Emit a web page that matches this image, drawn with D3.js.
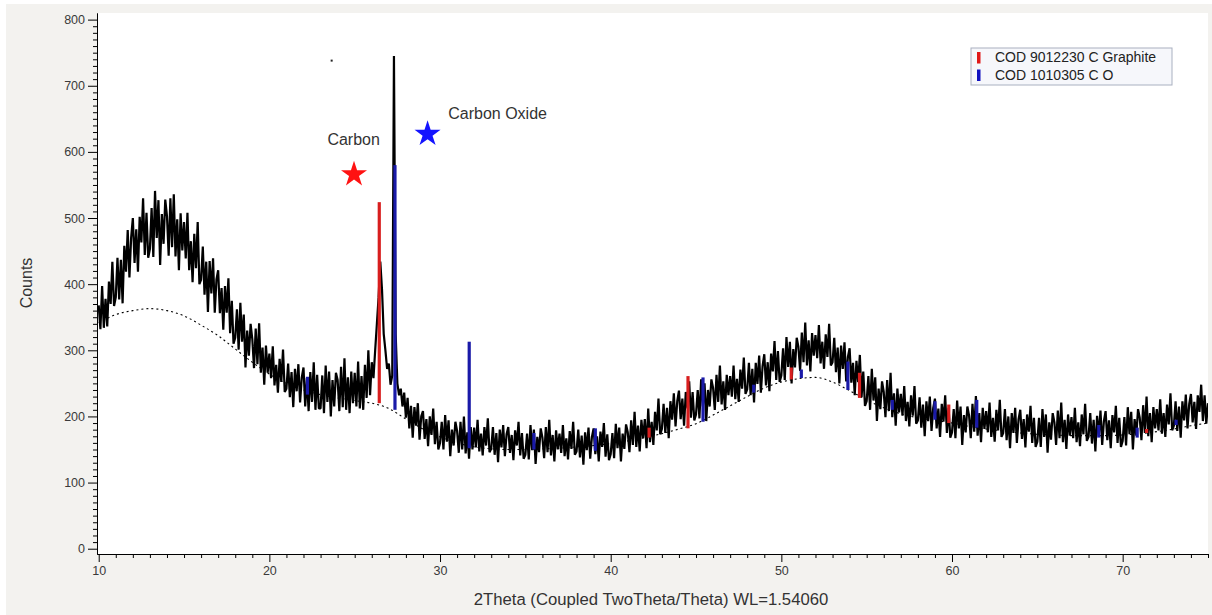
<!DOCTYPE html>
<html>
<head>
<meta charset="utf-8">
<script src="https://cdn.jsdelivr.net/npm/d3@7"></script>
<style>
  html, body { margin: 0; padding: 0; background: #fff; }
  svg { display: block; font-family: "Liberation Sans", Arial, sans-serif; }
</style>
</head>
<body>
<div id="chart"></div>
<script>
// scan: 2theta from 10 to 75 deg, 0.1 deg step (one row per degree)
const scanStart = 10, scanStep = 0.1;
const counts = [
  368,332,397,334,378,336,404,370,434,367,
  380,440,377,437,371,458,419,482,410,470,
  500,432,483,419,502,463,530,444,508,440,
  453,515,441,541,470,527,429,506,461,528,
  503,443,530,456,536,442,498,421,507,451,
  494,439,508,421,465,403,476,424,494,400,
  407,457,384,434,358,435,386,439,357,407,
  421,356,394,331,397,357,409,326,375,310,
  319,362,301,372,313,354,274,330,292,340,
  317,273,333,279,341,266,304,248,307,266,
  295,258,306,247,278,236,287,252,301,237,
  242,280,229,267,214,272,238,279,221,259,
  274,215,258,208,267,222,282,210,263,212,
  212,262,205,277,222,268,200,255,215,266,
  255,208,275,214,288,210,259,205,268,220,
  266,215,283,212,261,210,278,228,300,232,
  282,258,300,340,380,434,392,325,300,272,
  280,248,262,745,325,250,232,242,215,236,
  198,228,182,216,168,214,186,220,165,200,
  208,166,196,155,200,172,212,158,192,150,
  160,192,150,202,162,194,140,180,156,192,
  178,145,192,150,200,144,176,136,184,150,
  183,153,195,147,174,141,184,156,197,146,
  151,184,142,175,131,180,153,187,140,173,
  184,145,172,134,179,156,192,141,175,136,
  142,174,135,187,149,180,128,169,146,182,
  168,137,184,146,195,141,172,132,179,150,
  174,145,187,140,167,135,178,151,192,142,
  147,180,138,171,127,176,149,183,136,169,
  182,143,170,132,177,154,190,139,173,134,
  143,175,137,189,152,183,132,174,151,188,
  176,146,194,157,207,154,186,147,195,167,
  196,152,212,161,192,157,207,179,227,173,
  181,219,175,213,167,223,195,235,185,223,
  239,196,227,186,237,212,253,198,237,194,
  203,240,197,256,215,250,193,240,215,256,
  243,210,263,222,277,218,253,210,263,232,
  261,230,277,226,257,222,271,242,289,234,
  241,281,232,272,221,281,249,292,236,276,
  294,247,282,238,295,268,314,255,299,252,
  262,303,255,320,275,313,250,302,274,319,
  305,269,327,282,342,277,315,268,326,292,
  323,288,338,280,313,272,324,290,340,277,
  282,319,267,304,250,307,272,312,253,290,
  303,251,281,232,284,252,293,229,268,216,
  223,261,210,272,224,259,193,242,211,253,
  237,199,255,208,266,199,235,186,242,206,
  234,201,246,193,222,185,232,201,246,189,
  194,229,183,218,170,223,193,230,178,213,
  227,182,212,169,219,192,232,175,213,168,
  176,211,167,224,182,215,157,202,176,215,
  201,167,219,177,231,171,205,161,213,181,
  208,176,221,169,198,162,210,179,225,169,
  175,211,164,200,152,205,175,213,160,196,
  210,166,196,153,203,177,216,160,198,154,
  162,198,154,211,169,203,145,191,165,205,
  191,157,209,167,221,161,195,151,203,171,
  199,167,213,161,191,155,203,173,219,163,
  169,205,159,195,147,201,171,209,157,193,
  208,164,194,152,202,176,216,160,198,154,
  163,199,156,214,173,207,150,196,171,211,
  198,164,217,175,230,170,205,161,214,182,
  211,179,226,174,205,169,218,188,235,179,
  186,223,178,215,168,223,194,233,182,219,
  234,191,222,181,232,207,248,193,232,189,
  220
];

// fitted background (dashed)
const bgAngles = [10,11,12,13,14,15,16,17,18,19,20,21,22,23,24,25,26,27,28,29,30,31,32,33,34,35,36,37,38,39,40,41,42,
  43,44,45,46,47,48,49,50,51,52,53,54,55,56,57,58,59,60,61,62,63,64,65,66,67,68,69,70,71,72,73,74,75];
const bgCounts = [342,354,360,363,360,352,338,322,302,282,264,250,240,233,228,224,220,212,196,181,169,160,154,151,150,150,151,152,154,156,159,163,168,
  174,181,189,202,216,230,243,252,257,259,252,239,225,213,204,198,194,190,185,181,178,175,173,172,171,171,171,172,174,177,181,186,190];

// reference sticks
const graphitePos  = [26.44, 42.25, 44.53, 50.58, 54.58, 59.81, 71.4];
const graphiteBase = [220, 168, 182, 256, 228, 190, 175];
const graphiteTop  = [524, 183, 261, 274, 266, 218, 181];

const coPos  = [22.23, 27.36, 31.71, 35.5, 39.1, 45.41, 48.38, 51.17, 53.9, 56.5, 59.0, 61.45, 68.6, 70.85, 73.13];
const coBase = [233, 210, 152, 150, 148, 192, 236, 258, 240, 210, 195, 183, 168, 168, 187];
const coTop  = [260, 580, 313, 175, 182, 259, 248, 271, 283, 225, 223, 225, 187, 183, 195];

const legendLabels = ["COD 9012230 C Graphite", "COD 1010305 C O"];
const legendColors = ["#e01818", "#1010c0"];

// annotations (angle, counts)
const noteLabels = ["Carbon", "Carbon Oxide"];
const noteAt = [[23.4, 610], [30.48, 650]];
const starAt = [[24.96, 566], [29.27, 627]];
const starColors = ["#ff1212", "#1414ff"];

const xTickLabels = [10, 20, 30, 40, 50, 60, 70];
const yTickLabels = [0, 100, 200, 300, 400, 500, 600, 700, 800];

const W = 1212, H = 615;
const svg = d3.select("#chart").append("svg").attr("width", W).attr("height", H);

// panels
svg.append("rect").attr("x", 6).attr("y", 4).attr("width", W - 6).attr("height", H - 4).attr("fill", "#f3f2ef");
const pL = 97, pR = 1208, pT = 13, pB = 554;
svg.append("rect").attr("x", pL).attr("y", pT).attr("width", pR - pL).attr("height", pB - pT).attr("fill", "#fff");

const x = d3.scaleLinear().domain([9.9, 75]).range([pL, pR]);
const y = d3.scaleLinear().domain([-8, 810]).range([pB, pT]);

svg.append("clipPath").attr("id", "plot")
  .append("rect").attr("x", pL).attr("y", pT).attr("width", pR - pL).attr("height", pB - pT);

const g = svg.append("g").attr("clip-path", "url(#plot)");

// background
const bgData = bgAngles.map((a, i) => [a, bgCounts[i]]);
g.append("path")
  .datum(bgData)
  .attr("d", d3.line().x(d => x(d[0])).y(d => y(d[1])).curve(d3.curveMonotoneX))
  .attr("fill", "none").attr("stroke", "#000").attr("stroke-width", 1.1)
  .attr("stroke-dasharray", "2,3");

// scan
const scan = counts.map((c, i) => [scanStart + i * scanStep, c]);
g.append("path")
  .datum(scan)
  .attr("d", d3.line().x(d => x(d[0])).y(d => y(d[1])))
  .attr("fill", "none").attr("stroke", "#000").attr("stroke-width", 2.2)
  .attr("stroke-linejoin", "bevel");

// sticks
function sticks(pos, base, topv, color) {
  g.selectAll(null)
    .data(pos)
    .enter().append("line")
    .attr("x1", d => x(d)).attr("x2", d => x(d))
    .attr("y1", (d, i) => y(base[i])).attr("y2", (d, i) => y(topv[i]))
    .attr("stroke", color).attr("stroke-width", 3.2);
}
sticks(graphitePos, graphiteBase, graphiteTop, "#d81e1e");
sticks(coPos, coBase, coTop, "#1a1aa8");

// axes
const xAxisG = svg.append("g").attr("transform", `translate(0,${pB})`);
xAxisG.append("g")
  .call(d3.axisBottom(x).tickValues(d3.range(10, 76, 1).filter(v => v % 10 !== 0)).tickSize(4).tickFormat("").tickSizeOuter(0));
xAxisG.append("g")
  .call(d3.axisBottom(x).tickValues(xTickLabels).tickSize(8).tickPadding(4).tickSizeOuter(0));

const yAxisG = svg.append("g").attr("transform", `translate(${pL},0)`);
yAxisG.append("g")
  .call(d3.axisLeft(y).tickValues(d3.range(0, 801, 10).filter(v => v % 100 !== 0)).tickSize(4).tickFormat("").tickSizeOuter(0));
yAxisG.append("g")
  .call(d3.axisLeft(y).tickValues(yTickLabels).tickSize(9).tickPadding(3).tickSizeOuter(0));

svg.selectAll(".domain").attr("stroke", "#000");
svg.selectAll(".tick line").attr("stroke", "#000");
svg.selectAll(".tick text")
  .attr("font-family", "'Liberation Sans', Arial, sans-serif")
  .attr("font-size", 12.5).attr("fill", "#3a3a3a");

// axis titles
svg.append("text")
  .attr("x", 651).attr("y", 605)
  .attr("text-anchor", "middle").attr("font-size", 16.7).attr("fill", "#333")
  .text("2Theta (Coupled TwoTheta/Theta) WL=1.54060");

svg.append("text")
  .attr("transform", "translate(32,283) rotate(-90)")
  .attr("text-anchor", "middle").attr("font-size", 16).attr("fill", "#333")
  .text("Counts");

// annotations
svg.selectAll(null)
  .data(starAt)
  .enter().append("path")
  .attr("d", d3.symbol().type(d3.symbolStar).size(210))
  .attr("transform", d => `translate(${x(d[0])},${y(d[1])})`)
  .attr("fill", (d, i) => starColors[i]);

svg.selectAll(null)
  .data(noteLabels)
  .enter().append("text")
  .attr("x", (d, i) => x(noteAt[i][0]))
  .attr("y", (d, i) => y(noteAt[i][1]))
  .attr("font-size", 16).attr("fill", "#333")
  .text(d => d);

// stray dot near top
svg.append("rect")
  .attr("x", x(23.65) - 1).attr("y", y(738) - 1)
  .attr("width", 2).attr("height", 2).attr("fill", "#222");

// legend
const lg = svg.append("g").attr("transform", "translate(971,48)");
lg.append("rect").attr("width", 201).attr("height", 37)
  .attr("fill", "#f6f7fb").attr("stroke", "#a9b0c0").attr("stroke-width", 1);
legendLabels.forEach((t, i) => {
  lg.append("rect").attr("x", 6).attr("y", 4 + i * 17.5).attr("width", 3.5).attr("height", 11.5)
    .attr("fill", legendColors[i]);
  lg.append("text").attr("x", 24).attr("y", 14 + i * 17.5)
    .attr("font-size", 14).attr("fill", "#222").text(t);
});
</script>
</body>
</html>
